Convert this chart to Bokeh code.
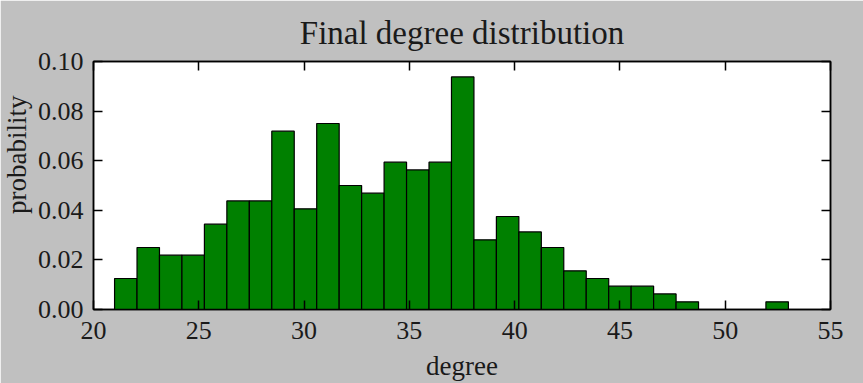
from bokeh.plotting import figure
from bokeh.models import (Range1d, LinearAxis, FixedTicker, NumeralTickFormatter,
                          CustomJSTickFormatter, Title, ColumnDataSource)
from bokeh.embed import file_html
from bokeh.resources import INLINE

# histogram bin edges (30 bins from 21 to 53)
bin_edges = [21.0, 22.067, 23.133, 24.2, 25.267, 26.333, 27.4, 28.467, 29.533, 30.6,
             31.667, 32.733, 33.8, 34.867, 35.933, 37.0, 38.067, 39.133, 40.2, 41.267,
             42.333, 43.4, 44.467, 45.533, 46.6, 47.667, 48.733, 49.8, 50.867, 51.933, 53.0]
probability = [0.0125, 0.025, 0.0219, 0.0219, 0.0344, 0.0438, 0.0438, 0.0719, 0.0406, 0.075,
               0.05, 0.0469, 0.0594, 0.0563, 0.0594, 0.0938, 0.0281, 0.0375, 0.0313, 0.025,
               0.0156, 0.0125, 0.0094, 0.0094, 0.0063, 0.0031, 0.0, 0.0, 0.0, 0.0031]
x_ticks = [20, 25, 30, 35, 40, 45, 50, 55]
y_ticks = [0.0, 0.02, 0.04, 0.06, 0.08, 0.10]

FONT = "Liberation Serif"
BG = "#c0c0c0"
TXT = "#1a1a1a"

src = ColumnDataSource(dict(left=bin_edges[:-1], right=bin_edges[1:], top=probability,
                            bottom=[0.0] * len(probability)))

p = figure(width=863, height=383, output_backend="svg", toolbar_location=None,
           x_range=Range1d(20, 55), y_range=Range1d(0, 0.10),
           x_axis_label="degree", title="Final degree distribution")
p.min_border_left = 93
p.min_border_right = 33
p.min_border_top = 61
p.min_border_bottom = 74
p.background_fill_color = "white"
p.border_fill_color = BG
p.outline_line_color = "black"
p.outline_line_width = 1.5
p.grid.visible = False

p.quad(left="left", right="right", top="top", bottom="bottom", source=src,
       fill_color="#008000", line_color="black", line_width=1.2)

p.title.text_font = FONT
p.title.text_font_size = "33px"
p.title.text_font_style = "normal"
p.title.text_color = TXT
p.title.align = "center"
p.title.standoff = 22

top_axis = LinearAxis()
right_axis = LinearAxis()
p.add_layout(top_axis, "above")
p.add_layout(right_axis, "right")

for ax in p.xaxis:
    ax.ticker = FixedTicker(ticks=x_ticks)
for ax in p.yaxis:
    ax.ticker = FixedTicker(ticks=y_ticks)
    ax.formatter = NumeralTickFormatter(format="0.00")

for ax in [p.below[0], p.left[0], top_axis, right_axis]:
    ax.major_tick_in = 9
    ax.major_tick_out = 0
    ax.minor_tick_in = 0
    ax.minor_tick_out = 0
    ax.major_tick_line_color = "black"
    ax.major_tick_line_width = 1.5
    ax.axis_line_color = "black"
    ax.axis_line_width = 1.5
    ax.major_label_text_font = FONT
    ax.major_label_text_font_size = "26px"
    ax.major_label_text_color = TXT
    ax.axis_label_text_font = FONT
    ax.axis_label_text_font_size = "27px"
    ax.axis_label_text_font_style = "normal"
    ax.axis_label_text_color = TXT

for ax in [top_axis, right_axis]:
    ax.formatter = CustomJSTickFormatter(code="return '';")
    ax.major_label_standoff = 0

p.below[0].major_label_standoff = 12
p.below[0].axis_label_standoff = 9
p.left[0].major_label_standoff = 10

ylab = Title(text="probability", align="right", offset=34, standoff=1,
             vertical_align="top",
             text_font=FONT, text_font_size="27px", text_font_style="normal",
             text_color=TXT)
p.add_layout(ylab, "left")

open("out.html", "w").write(file_html(p, INLINE))
